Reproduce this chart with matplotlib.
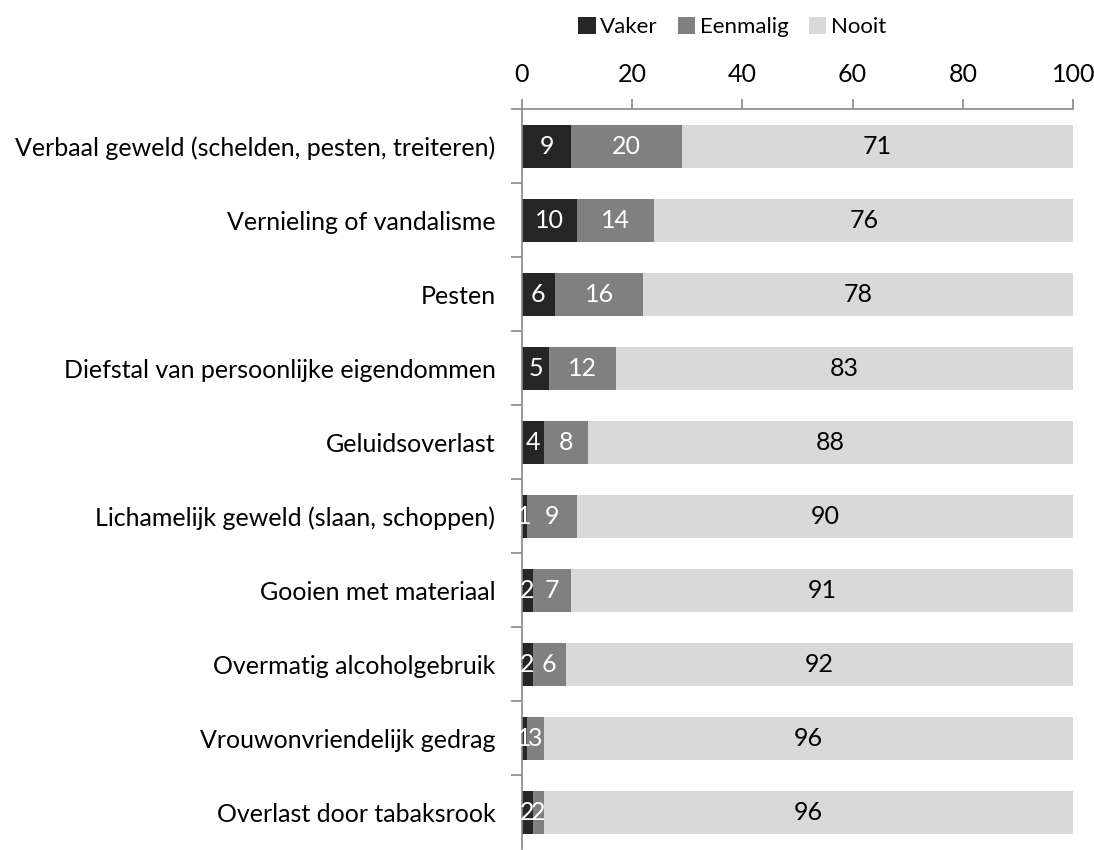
import matplotlib.pyplot as plt
import numpy as np

plt.rcParams['font.family'] = ['Lato', 'DejaVu Sans']

categories = ['Verbaal geweld (schelden, pesten, treiteren)',
              'Vernieling of vandalisme',
              'Pesten',
              'Diefstal van persoonlijke eigendommen',
              'Geluidsoverlast',
              'Lichamelijk geweld (slaan, schoppen)',
              'Gooien met materiaal',
              'Overmatig alcoholgebruik',
              'Vrouwonvriendelijk gedrag',
              'Overlast door tabaksrook']
vaker = [9, 10, 6, 5, 4, 1, 2, 2, 1, 2]
eenmalig = [20, 14, 16, 12, 8, 9, 7, 6, 3, 2]
nooit = [71, 76, 78, 83, 88, 90, 91, 92, 96, 96]
series_names = ['Vaker', 'Eenmalig', 'Nooit']
colors = ['#262626', '#808080', '#d9d9d9']
text_colors = ['white', 'white', 'black']
x_ticks = [0, 20, 40, 60, 80, 100]

fig = plt.figure(figsize=(10.94, 8.5), dpi=100)
ax = fig.add_axes([0.477, 0.001, 0.504, 0.8706])

y = np.arange(len(categories))
left = np.zeros(len(categories))
for vals, name, c, tc in zip([vaker, eenmalig, nooit], series_names, colors, text_colors):
    bars = ax.barh(y, vals, left=left, height=0.58, color=c, label=name)
    ax.bar_label(bars, labels=[str(v) for v in vals], label_type='center',
                 color=tc, fontsize=18)
    left += np.array(vals)

ax.set_xlim(0, 100)
ax.set_ylim(len(categories) - 0.5, -0.5)
ax.set_yticks(y)
ax.set_yticklabels(categories, fontsize=18)
ax.set_yticks(np.arange(-0.5, len(categories) - 0.5, 1), minor=True)
ax.tick_params(axis='y', which='major', length=0, pad=19)
ax.tick_params(axis='y', which='minor', length=8, color='#888888', width=1.2)
ax.xaxis.tick_top()
ax.set_xticks(x_ticks)
ax.tick_params(axis='x', labelsize=18, length=7, color='#888888', width=1.2, pad=10)

for s in ['right', 'bottom']:
    ax.spines[s].set_visible(False)
for s in ['left', 'top']:
    ax.spines[s].set_color('#888888')
    ax.spines[s].set_linewidth(1.2)

fig.legend(loc='center', bbox_to_anchor=(0.669, 0.968), ncol=3, frameon=False,
           fontsize=16, handlelength=0.8, handleheight=0.8, handletextpad=0.2,
           columnspacing=0.9)

fig.savefig('out.png', dpi=100)
